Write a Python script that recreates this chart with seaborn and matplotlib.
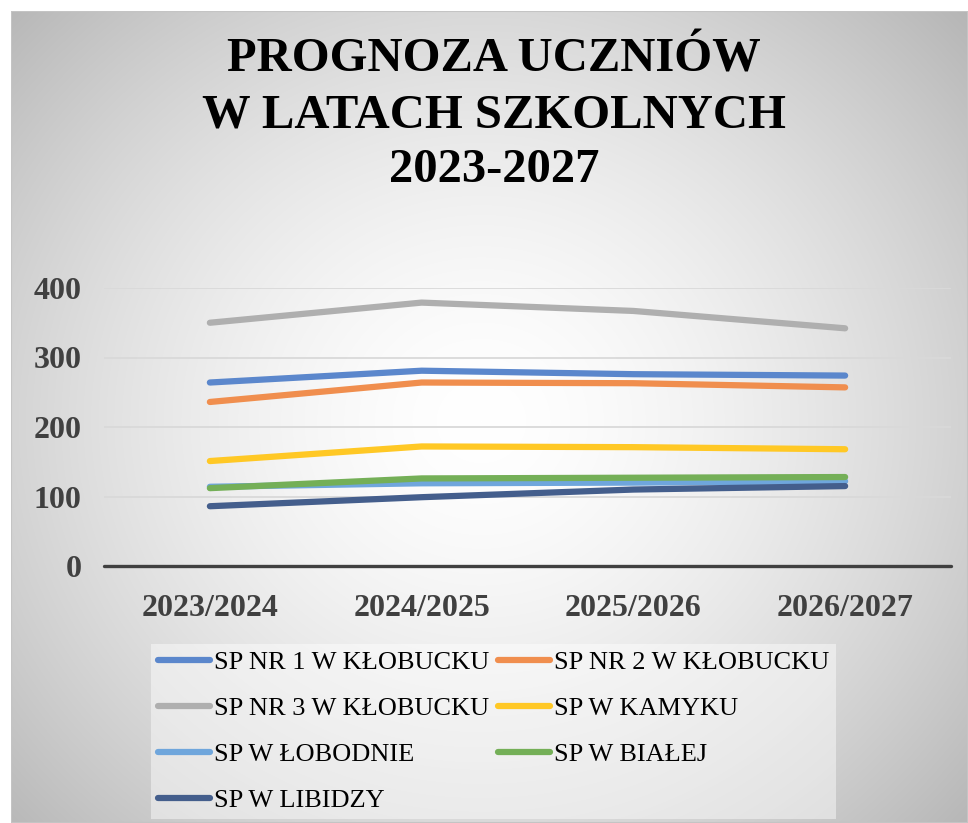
import numpy as np
import pandas as pd
import seaborn as sns
import matplotlib.pyplot as plt
from matplotlib.lines import Line2D
from matplotlib.patches import Rectangle

# -------------------------------
# data
# -------------------------------
lata = ["2023/2024", "2024/2025", "2025/2026", "2026/2027"]
szkoly = ["SP NR 1 W KŁOBUCKU", "SP NR 2 W KŁOBUCKU", "SP NR 3 W KŁOBUCKU",
          "SP W KAMYKU", "SP W ŁOBODNIE", "SP W BIAŁEJ", "SP W LIBIDZY"]
sp1 = [264, 281, 276, 274]
sp2 = [236, 264, 263, 257]
sp3 = [350, 379, 367, 342]
kamyk = [151, 172, 171, 168]
lobodno = [114, 119, 120, 122]
biala = [112, 126, 127, 128]
libidz = [86, 99, 110, 115]
kolory = ["#5B87CC", "#F08E4E", "#AFAFAF", "#FFC825", "#6FA6DC", "#74AF57", "#445E8C"]

wartosci = [sp1, sp2, sp3, kamyk, lobodno, biala, libidz]
df = pd.DataFrame([(s, r, v) for s, vals in zip(szkoly, wartosci) for r, v in zip(lata, vals)],
                  columns=["szkola", "rok", "uczniowie"])

# -------------------------------
# style
# -------------------------------
sns.set_style("white")
plt.rcParams["font.family"] = ["Liberation Serif", "DejaVu Serif"]
szary_txt = "#404040"

fig = plt.figure(figsize=(9.68, 8.23), dpi=100)
fig.patch.set_facecolor("white")

# radial gradient background
bg = fig.add_axes([11 / 968, 0, 1 - 11 / 968, 1 - 11 / 823], zorder=-10)
h, w = 812, 957
yy, xx = np.mgrid[0:h, 0:w]
r = np.sqrt(((xx - 470) / 560) ** 2 + ((yy - 410) / 520) ** 2)
val = 255 - 57 * np.clip(r, 0, 1.2) ** 1.6
bg.imshow(np.dstack([val, val, val]) / 255, aspect="auto", extent=[0, 1, 0, 1])
bg.add_patch(Rectangle((0, 0), 1, 1, transform=bg.transAxes, fill=False,
                       edgecolor="#c4c4c4", lw=1.5))
bg.set_axis_off()

# -------------------------------
# line chart
# -------------------------------
ax = fig.add_axes([104 / 968, 1 - 566 / 823, 847 / 968, 278 / 823])
ax.patch.set_alpha(0)
sns.lineplot(data=df, x="rok", y="uczniowie", hue="szkola", palette=kolory,
             hue_order=szkoly, lw=4.5, sort=False, legend=False, ax=ax,
             solid_capstyle="round")

ax.set_xlim(-0.5, 3.5)
ax.set_ylim(0, 400)
ax.set_yticks([0, 100, 200, 300, 400])
for y in [100, 200, 300, 400]:
    ax.axhline(y, color="#d9d9d9", lw=1.3, zorder=0)
ax.axhline(0, color=szary_txt, lw=2.4, zorder=1, clip_on=False)
sns.despine(ax=ax, left=True, bottom=True)
ax.set_xlabel("")
ax.set_ylabel("")
ax.tick_params(length=0, labelsize=23, labelcolor=szary_txt)
ax.tick_params(axis="y", pad=16)
ax.tick_params(axis="x", pad=20)
for lab in ax.get_xticklabels() + ax.get_yticklabels():
    lab.set_fontweight("bold")

# title
fig.text(494 / 968, 1 - 38 / 823, "PROGNOZA UCZNIÓW\nW LATACH SZKOLNYCH\n2023-2027",
         ha="center", va="top", fontsize=35, fontweight="bold", color="black",
         linespacing=1.33)

# legend (row-major order like the original)
uchwyty = [Line2D([0], [0], color=c, lw=4.5, solid_capstyle="round") for c in kolory]
kolejnosc = [0, 2, 4, 6, 1, 3, 5]
leg = fig.legend([uchwyty[i] for i in kolejnosc], [szkoly[i] for i in kolejnosc],
                 ncol=2, loc="lower left", bbox_to_anchor=(151 / 968, 4 / 823),
                 borderaxespad=0, fontsize=19, labelcolor="black", frameon=True,
                 fancybox=False, handlelength=2.0, handletextpad=0.15,
                 columnspacing=0.3, labelspacing=0.86, borderpad=0.25)
leg.get_frame().set_facecolor("white")
leg.get_frame().set_alpha(0.45)
leg.get_frame().set_edgecolor("none")

fig.savefig("out.png", dpi=100)
